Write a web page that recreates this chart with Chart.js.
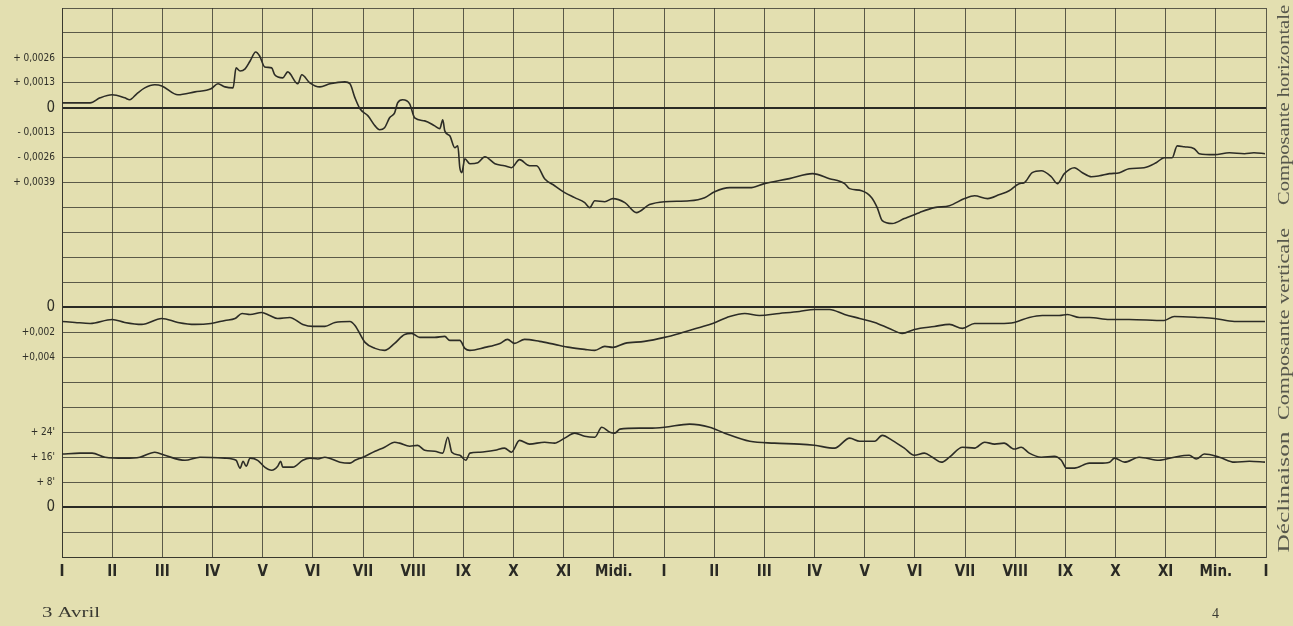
<!DOCTYPE html>
<html>
<head>
<meta charset="utf-8">
<script src="https://cdn.jsdelivr.net/npm/chart.js@4.4.1/dist/chart.umd.min.js"></script>
<style>
  html, body { margin: 0; padding: 0; background: #e3dfb0; }
  #wrap { width: 1293px; height: 626px; position: relative; }
</style>
</head>
<body>
<div id="wrap"><canvas id="chart"></canvas></div>
<script>
// hours along the bottom, I .. Midi. .. Min. .. I
const hourLabels = ["I", "II", "III", "IV", "V", "VI", "VII", "VIII", "IX", "X", "XI", "Midi.",
  "I", "II", "III", "IV", "V", "VI", "VII", "VIII", "IX", "X", "XI", "Min.", "I"];

// left labels, by grid row (0 = top line, 22 = bottom line)
const rowTicks = [2, 3, 4, 5, 6, 7, 12, 13, 14, 17, 18, 19, 20];
const rowTickLabels = ["+ 0,0026", "+ 0,0013", "0", "- 0,0013", "- 0,0026", "+ 0,0039",
  "0", "+0,002", "+0,004", "+ 24'", "+ 16'", "+ 8'", "0"];
const zeroRows = [4, 12, 20];

// Composante horizontale
const hTimes = [
  0, 0.26, 0.56, 0.76, 1.00, 1.25, 1.35, 1.49, 1.65, 1.85,
  1.99, 2.31, 2.65, 2.97, 3.11, 3.25, 3.41, 3.47, 3.55, 3.65,
  3.75, 3.86, 3.94, 4.04, 4.18, 4.24, 4.40, 4.50, 4.70, 4.78,
  4.94, 5.14, 5.34, 5.64, 5.74, 5.84, 5.94, 6.10, 6.24, 6.33,
  6.43, 6.53, 6.63, 6.69, 6.79, 6.93, 7.03, 7.23, 7.43, 7.53,
  7.59, 7.63, 7.73, 7.83, 7.89, 7.93, 7.97, 8.03, 8.13, 8.29,
  8.43, 8.63, 8.82, 8.96, 9.12, 9.32, 9.46, 9.62, 9.82, 10.02,
  10.22, 10.42, 10.52, 10.62, 10.82, 10.98, 11.22, 11.45, 11.71, 12.01,
  12.51, 12.81, 13.01, 13.31, 13.71, 14.00, 14.50, 14.96, 15.30, 15.60,
  15.70, 15.94, 16.14, 16.25, 16.35, 16.55, 16.79, 17.09, 17.39, 17.69,
  17.99, 18.19, 18.45, 18.69, 18.88, 19.08, 19.18, 19.34, 19.52, 19.72,
  19.84, 19.98, 20.18, 20.34, 20.52, 20.68, 20.88, 21.08, 21.27, 21.57,
  21.81, 21.97, 22.13, 22.23, 22.37, 22.57, 22.67, 22.97, 23.27, 23.57,
  23.76, 23.98
];
const hValues = [
  0.00026, 0.00026, 0.00026, 0.00052, 0.00068, 0.00052, 0.00042, 0.00073, 0.00104, 0.0012,
  0.00114, 0.00068, 0.00083, 0.00099, 0.00125, 0.00109, 0.00104, 0.00208, 0.00192, 0.00203,
  0.00244, 0.00291, 0.0027, 0.00213, 0.00208, 0.00172, 0.00156, 0.00187, 0.00125, 0.00172,
  0.0013, 0.00109, 0.00125, 0.00135, 0.00125, 0.00052, -0.00005, -0.00042, -0.00094, -0.00114,
  -0.00104, -0.00052, -0.00026, 0.00026, 0.00042, 0.00021, -0.00052, -0.00068, -0.00094, -0.00109,
  -0.00062, -0.0012, -0.00146, -0.00208, -0.00198, -0.00312, -0.00338, -0.00265, -0.00291, -0.00286,
  -0.00255, -0.00291, -0.00302, -0.00312, -0.0027, -0.00302, -0.00302, -0.00369, -0.00406, -0.00442,
  -0.00468, -0.00494, -0.0052, -0.00484, -0.00489, -0.00473, -0.00494, -0.00546, -0.00504, -0.00489,
  -0.00484, -0.00468, -0.00437, -0.00416, -0.00416, -0.00395, -0.00369, -0.00343, -0.00369, -0.00395,
  -0.00421, -0.00432, -0.00468, -0.0052, -0.00588, -0.00603, -0.00577, -0.00546, -0.0052, -0.0051,
  -0.00473, -0.00458, -0.00473, -0.00452, -0.00432, -0.00395, -0.0039, -0.00338, -0.00328, -0.00359,
  -0.00395, -0.00343, -0.00312, -0.00338, -0.00359, -0.00354, -0.00343, -0.00338, -0.00317, -0.00312,
  -0.00286, -0.0026, -0.0026, -0.00198, -0.00203, -0.00213, -0.00239, -0.00244, -0.00234, -0.00239,
  -0.00234, -0.00239
];

// Composante verticale (positive downwards)
const vTimes = [
  0, 0.26, 0.56, 1.00, 1.25, 1.59, 1.99, 2.31, 2.65, 2.97,
  3.25, 3.45, 3.59, 3.75, 3.98, 4.14, 4.30, 4.54, 4.80, 5.00,
  5.24, 5.44, 5.74, 5.84, 6.04, 6.24, 6.43, 6.63, 6.83, 6.97,
  7.13, 7.43, 7.63, 7.73, 7.93, 8.03, 8.13, 8.43, 8.73, 8.88,
  9.02, 9.22, 9.52, 9.82, 10.12, 10.42, 10.62, 10.82, 10.98, 11.22,
  11.61, 12.01, 12.31, 12.71, 12.97, 13.31, 13.61, 13.90, 14.30, 14.70,
  15.00, 15.30, 15.60, 15.90, 16.20, 16.49, 16.75, 16.99, 17.39, 17.69,
  17.95, 18.19, 18.69, 18.98, 19.28, 19.54, 19.88, 20.04, 20.28, 20.48,
  20.88, 21.27, 21.97, 22.17, 22.67, 22.97, 23.37, 23.98
];
const vValues = [
  0.00112, 0.0012, 0.00128, 0.00096, 0.0012, 0.00136, 0.00088, 0.0012, 0.00136, 0.00128,
  0.00104, 0.00088, 0.00048, 0.00056, 0.0004, 0.00064, 0.00088, 0.0008, 0.00136, 0.00152,
  0.00152, 0.0012, 0.00112, 0.00144, 0.0028, 0.00328, 0.00344, 0.00288, 0.00216, 0.00208,
  0.0024, 0.0024, 0.00232, 0.00264, 0.00264, 0.00328, 0.00344, 0.0032, 0.00288, 0.00256,
  0.00288, 0.00256, 0.00272, 0.00296, 0.0032, 0.00336, 0.00344, 0.00312, 0.0032, 0.00288,
  0.00272, 0.0024, 0.00208, 0.0016, 0.00128, 0.00072, 0.00048, 0.00064, 0.00048, 0.00032,
  0.00016, 0.00016, 0.00056, 0.00088, 0.0012, 0.00168, 0.00208, 0.00176, 0.00152, 0.00136,
  0.00168, 0.00128, 0.00128, 0.0012, 0.0008, 0.00064, 0.00064, 0.00056, 0.0008, 0.0008,
  0.00096, 0.00096, 0.00104, 0.00072, 0.0008, 0.00088, 0.00112, 0.00112
];

// Déclinaison, in minutes of arc
const dTimes = [
  0, 0.36, 0.60, 0.86, 1.25, 1.55, 1.85, 2.05, 2.45, 2.75,
  3.25, 3.47, 3.55, 3.61, 3.67, 3.75, 3.90, 4.04, 4.18, 4.30,
  4.36, 4.40, 4.60, 4.80, 4.94, 5.10, 5.24, 5.54, 5.74, 5.84,
  6.00, 6.24, 6.43, 6.63, 6.73, 6.93, 7.09, 7.23, 7.43, 7.59,
  7.69, 7.77, 7.93, 8.05, 8.13, 8.33, 8.63, 8.82, 8.96, 9.12,
  9.32, 9.62, 9.82, 10.02, 10.22, 10.42, 10.62, 10.76, 10.92, 11.02,
  11.12, 11.51, 11.71, 12.01, 12.51, 12.91, 13.21, 13.71, 14.20, 14.70,
  15.00, 15.40, 15.70, 15.90, 16.20, 16.35, 16.55, 16.79, 16.99, 17.19,
  17.35, 17.53, 17.69, 17.95, 18.19, 18.39, 18.59, 18.78, 18.98, 19.12,
  19.28, 19.52, 19.78, 19.92, 20.02, 20.18, 20.48, 20.68, 20.88, 20.98,
  21.18, 21.47, 21.87, 22.17, 22.47, 22.61, 22.77, 23.07, 23.37, 23.67,
  23.98
];
const dValues = [
  17.0, 17.3, 17.3, 16.0, 15.7, 16.0, 17.6, 16.6, 15.0, 16.0,
  15.7, 15.0, 12.5, 14.7, 13.1, 15.7, 15.0, 12.8, 11.8, 13.1,
  14.7, 12.8, 12.8, 15.0, 15.7, 15.4, 16.0, 14.4, 14.1, 15.0,
  16.0, 17.9, 19.2, 20.8, 20.5, 19.5, 19.8, 18.2, 17.9, 17.3,
  22.4, 17.6, 16.6, 15.0, 17.3, 17.6, 18.2, 18.9, 17.6, 21.4,
  20.2, 20.8, 20.5, 22.1, 23.7, 22.7, 22.4, 25.6, 24.0, 23.7,
  25.0, 25.3, 25.3, 25.6, 26.6, 25.6, 23.7, 21.1, 20.5, 20.2,
  19.8, 18.9, 22.1, 21.1, 21.1, 23.0, 21.4, 18.9, 16.6, 17.3,
  16.0, 14.4, 16.0, 19.2, 18.9, 20.8, 20.2, 20.5, 18.6, 19.2,
  17.3, 16.0, 16.3, 15.0, 12.5, 12.5, 14.1, 14.1, 14.4, 15.7,
  14.4, 16.0, 15.0, 16.0, 16.6, 15.4, 17.0, 16.0, 14.4, 14.7,
  14.4
];

const toPoints = (xs, ys) => xs.map((x, i) => ({ x, y: ys[i] }));

const ink = "#2c2c26";
const gridInk = "rgba(45, 45, 38, 0.75)";
const narrow = "'Liberation Sans Narrow', 'DejaVu Sans Condensed', sans-serif";
const serif = "'Liberation Serif', 'DejaVu Serif', serif";

const paper = {
  id: "paper",
  beforeDraw(chart) {
    const c = chart.ctx;
    c.save();
    c.fillStyle = "#e3dfb0";
    c.fillRect(0, 0, chart.width, chart.height);
    c.restore();
  },
  afterDraw(chart) {
    const c = chart.ctx;
    const side = [
      { text: "Composante horizontale", mid: 105, len: 200 },
      { text: "Composante verticale", mid: 324, len: 192 },
      { text: "Déclinaison", mid: 492, len: 121 },
    ];
    const fitText = (text, x, y, len) => {
      const w = c.measureText(text).width;
      c.save();
      c.translate(x, y);
      c.scale(len / w, 1);
      c.fillText(text, 0, 0);
      c.restore();
    };
    c.save();
    c.fillStyle = "#57574c";
    c.font = "16px " + serif;
    c.textAlign = "center";
    c.textBaseline = "middle";
    side.forEach((s) => {
      c.save();
      c.translate(1285, s.mid);
      c.rotate(-Math.PI / 2);
      fitText(s.text, 0, 0, s.len);
      c.restore();
    });
    c.fillStyle = "#3a3a32";
    c.font = "15px " + serif;
    c.textAlign = "left";
    c.textBaseline = "alphabetic";
    fitText("3 Avril", 42, 617, 58);
    c.font = "14px " + serif;
    c.fillText("4", 1212, 618);
    c.restore();
  },
};

const line = (label, xs, ys, axis) => ({
  label,
  data: toPoints(xs, ys),
  yAxisID: axis,
  borderColor: ink,
  borderWidth: 1.6,
  pointRadius: 0,
  cubicInterpolationMode: "monotone",
  fill: false,
});

new Chart(document.getElementById("chart"), {
  type: "line",
  data: {
    datasets: [
      line("Composante horizontale", hTimes, hValues, "yH"),
      line("Composante verticale", vTimes, vValues, "yV"),
      line("Déclinaison", dTimes, dValues, "yD"),
    ],
  },
  options: {
    responsive: true,
    maintainAspectRatio: false,
    animation: false,
    layout: { padding: { top: 8, right: 27, left: 0, bottom: 0 } },
    plugins: { legend: { display: false }, tooltip: { enabled: false } },
    scales: {
      x: {
        type: "linear",
        min: 0,
        max: 24,
        afterFit: (s) => { s.height = 69; s.paddingLeft = 0; s.paddingRight = 0; },
        border: { color: gridInk },
        grid: { color: gridInk, lineWidth: 1, drawTicks: false },
        ticks: {
          stepSize: 1,
          autoSkip: false,
          maxRotation: 0,
          padding: 6,
          color: "#2a2a24",
          font: { family: narrow, size: 15, weight: "bold" },
          callback: (v) => hourLabels[v],
        },
      },
      y: {
        min: 0,
        max: 22,
        reverse: true,
        afterFit: (s) => { s.width = 62; s.paddingTop = 0; s.paddingBottom = 0; },
        border: { color: gridInk },
        grid: {
          drawTicks: false,
          color: (c) => (c.tick && zeroRows.includes(c.tick.value) ? "#2a2a24" : gridInk),
          lineWidth: (c) => (c.tick && zeroRows.includes(c.tick.value) ? 2 : 1),
        },
        ticks: {
          stepSize: 1,
          autoSkip: false,
          padding: 7,
          color: "#2f2f28",
          font: (c) => (c.tick && zeroRows.includes(c.tick.value)
            ? { family: narrow, size: 15 }
            : { family: "'DejaVu Sans Condensed', sans-serif", size: 10 }),
          callback: (v) => {
            const i = rowTicks.indexOf(v);
            return i >= 0 ? rowTickLabels[i] : "";
          },
        },
      },
      // data axes, aligned to the 22-row grid
      yH: { display: false, min: -18 * 0.0013, max: 4 * 0.0013 },
      yV: { display: false, reverse: true, min: -12 * 0.002, max: 10 * 0.002 },
      yD: { display: false, min: -2 * 8, max: 20 * 8 },
    },
  },
  plugins: [paper],
});
</script>
</body>
</html>
